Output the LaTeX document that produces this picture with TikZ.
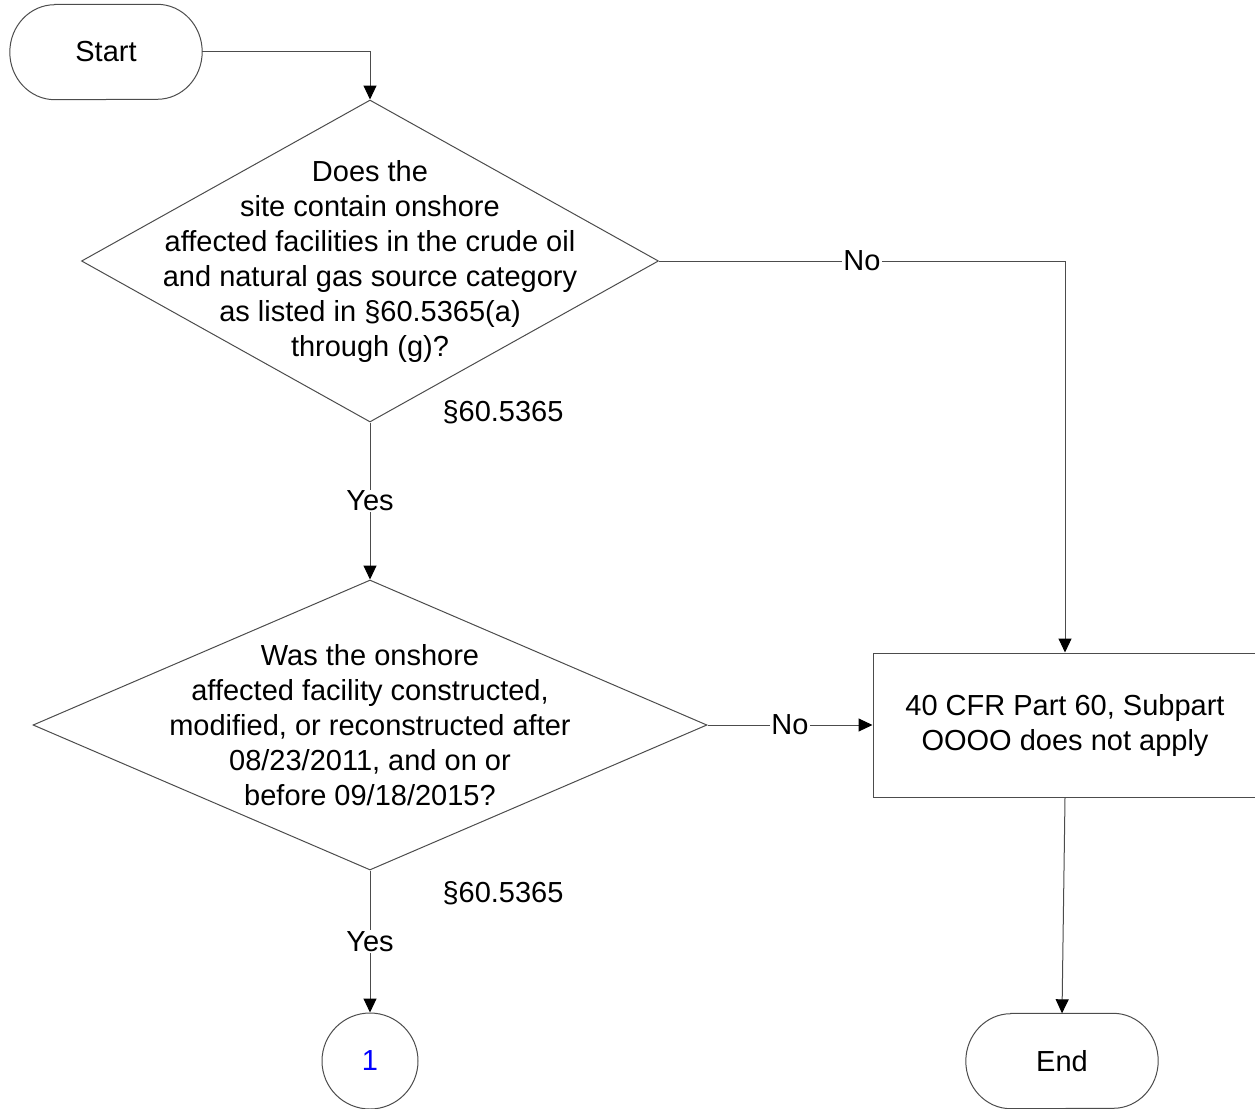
\documentclass[tikz,border=0pt]{standalone}
\usepackage{fontspec}
\setmainfont{Liberation Sans}
\usetikzlibrary{shapes.geometric,arrows.meta}
\begin{document}
\begin{tikzpicture}[x=1pt,y=-1pt,
  line/.style={draw=black!70, line width=1pt},
  arr/.style={line, -{Triangle[length=14pt,width=13pt,color=black]}},
  txt/.style={font=\fontsize{29}{35}\selectfont, align=center, inner sep=0pt},
  lbl/.style={font=\fontsize{29}{35}\selectfont, fill=white, inner sep=1pt},
  termbox/.style={txt, draw=none, minimum width=192pt, minimum height=95pt},
  decision/.style={diamond, line, inner sep=0pt},
]
\useasboundingbox (0,0) rectangle (1255,1108);

% terminals
\node[termbox] (start) at (106,52) {Start};
\draw[line] ([xshift=45pt]start.north west) -- ([xshift=-45pt]start.north east)
  arc[start angle=90, end angle=-90, x radius=45pt, y radius=47.5pt]
  -- ([xshift=45pt]start.south west)
  arc[start angle=270, end angle=90, x radius=45pt, y radius=47.5pt] -- cycle;

\node[termbox] (end) at (1062,1061) {End};
\draw[line] ([xshift=45pt]end.north west) -- ([xshift=-45pt]end.north east)
  arc[start angle=90, end angle=-90, x radius=45pt, y radius=47.5pt]
  -- ([xshift=45pt]end.south west)
  arc[start angle=270, end angle=90, x radius=45pt, y radius=47.5pt] -- cycle;

% decisions
\node[decision, minimum width=577pt, minimum height=322pt] (d1) at (370,261) {};
\node[txt] (d1text) at (d1.center) {Does the\\site contain onshore\\affected facilities in the crude oil\\and natural gas source category\\as listed in §60.5365(a)\\through (g)?};

\node[decision, minimum width=674pt, minimum height=290pt] (d2) at (370,725) {};
\node[txt] (d2text) at (d2.center) {Was the onshore\\affected facility constructed,\\modified, or reconstructed after\\08/23/2011, and on or\\before 09/18/2015?};

% process box
\node[txt, line, rectangle, minimum width=384pt, minimum height=144pt] (box) at (1065,725) {40 CFR Part 60, Subpart\\OOOO does not apply};

% connector circle
\node[txt, line, circle, minimum size=96pt, text=blue] (c1) at (370,1061) {1};

% references
\node[txt] (ref1) at (503,412) {§60.5365};
\node[txt] (ref2) at (503,893) {§60.5365};

% connectors
\draw[arr] (start.east) -| (d1.north);
\draw[arr] (d1.east) -| node[lbl, pos=0.25] {No} (box.north);
\draw[arr] (d1.south) -- node[lbl] {Yes} (d2.north);
\draw[arr] (d2.east) -- node[lbl] {No} (box.west);
\draw[arr] (d2.south) -- node[lbl] {Yes} (c1.north);
\draw[arr] (box.south) -- (end.north);
\end{tikzpicture}
\end{document}
